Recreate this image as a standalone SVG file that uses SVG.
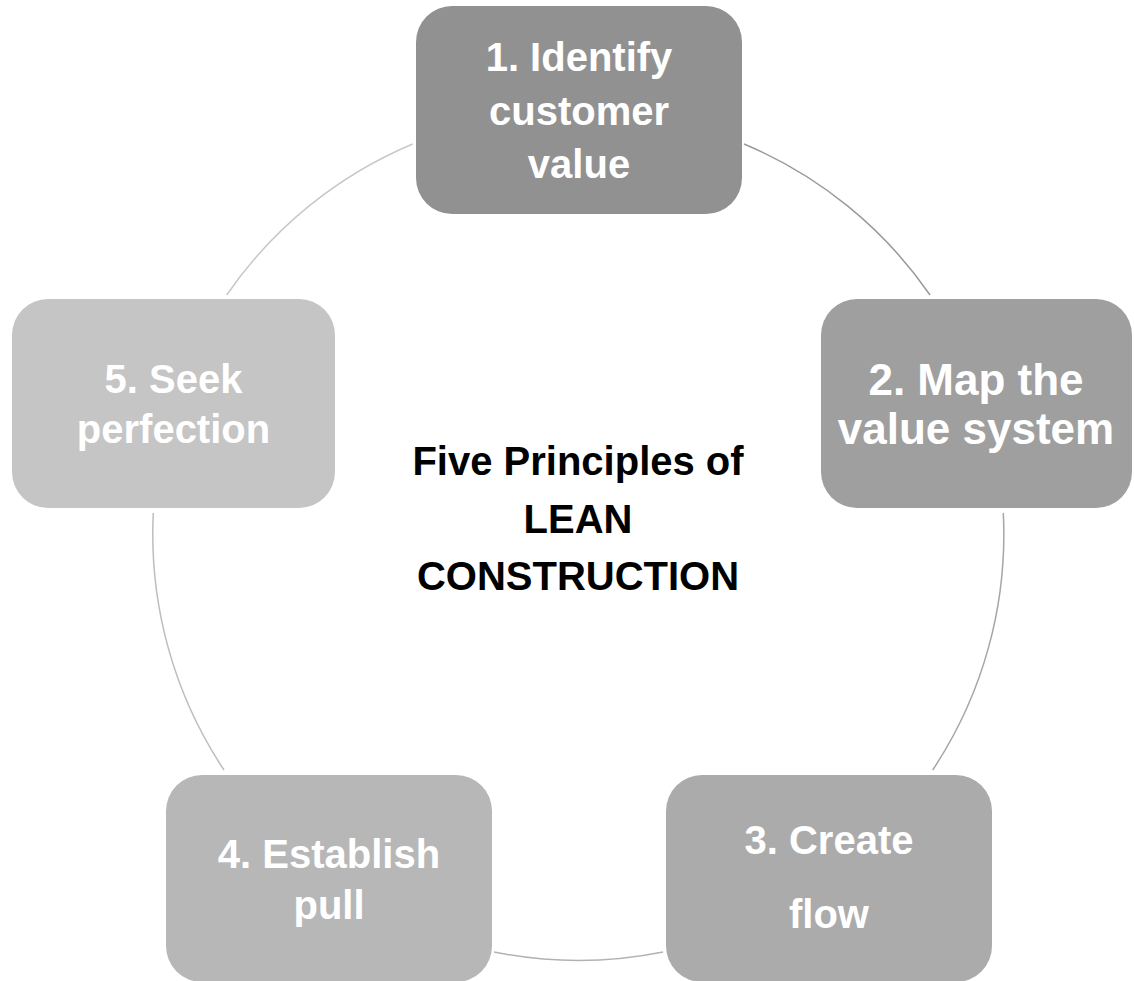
<svg xmlns="http://www.w3.org/2000/svg" width="1134" height="981" viewBox="0 0 1134 981">
  <style>
    .box { stroke: none; }
    .label { font-family: "Liberation Sans", Arial, sans-serif; font-weight: bold; font-size: 40px; fill: #ffffff; text-anchor: middle; }
    .label-lg { font-size: 44px; }
    .title { font-family: "Liberation Sans", Arial, sans-serif; font-weight: bold; font-size: 40px; fill: #000000; text-anchor: middle; }
    .arc { fill: none; stroke-width: 1.5; }
  </style>
  <rect width="1134" height="981" fill="#ffffff"/>

  <!-- cycle arcs: circle centre (578.5, 535), r = 426 -->
  <g id="connectors">
    <path class="arc" stroke="#9a9a9a" d="M 744 144 A 426 426 0 0 1 930 295"/>
    <path class="arc" stroke="#a6a6a6" d="M 1003.3 513 A 426 426 0 0 1 932.7 770"/>
    <path class="arc" stroke="#b2b2b2" d="M 663 952 A 426 426 0 0 1 494 952"/>
    <path class="arc" stroke="#bdbdbd" d="M 224 770 A 426 426 0 0 1 153.3 513"/>
    <path class="arc" stroke="#c8c8c8" d="M 226.7 295 A 426 426 0 0 1 412.7 144"/>
  </g>

  <g id="node1">
    <rect class="box" x="416" y="6" width="326" height="208" rx="36" fill="#919191"/>
    <text class="label" x="579" y="71">1. Identify</text>
    <text class="label" x="579" y="125">customer</text>
    <text class="label" x="579" y="178">value</text>
  </g>

  <g id="node2">
    <rect class="box" x="821" y="299" width="311" height="209" rx="36" fill="#9f9f9f"/>
    <text class="label label-lg" x="976" y="395">2. Map the</text>
    <text class="label label-lg" x="976" y="444">value system</text>
  </g>

  <g id="node3">
    <rect class="box" x="666" y="775" width="326" height="207" rx="36" fill="#ababab"/>
    <text class="label" x="829" y="854">3. Create</text>
    <text class="label" x="829" y="928">flow</text>
  </g>

  <g id="node4">
    <rect class="box" x="166" y="775" width="326" height="207" rx="36" fill="#b7b7b7"/>
    <text class="label" x="329" y="868">4. Establish</text>
    <text class="label" x="329" y="919">pull</text>
  </g>

  <g id="node5">
    <rect class="box" x="12" y="299" width="323" height="209" rx="36" fill="#c5c5c5"/>
    <text class="label" x="173.5" y="393">5. Seek</text>
    <text class="label" x="173.5" y="443">perfection</text>
  </g>

  <g id="center">
    <text class="title" x="578" y="475">Five Principles of</text>
    <text class="title" x="578" y="533">LEAN</text>
    <text class="title" x="578" y="590">CONSTRUCTION</text>
  </g>
</svg>
